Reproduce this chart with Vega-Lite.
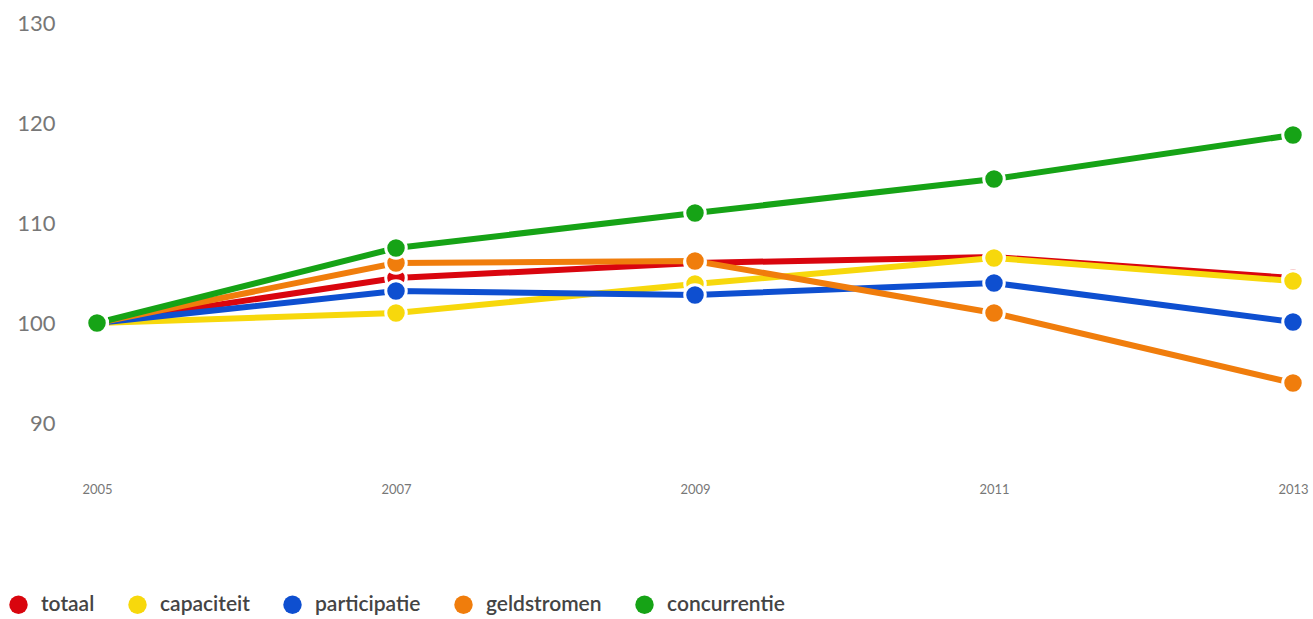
{
  "$schema": "https://vega.github.io/schema/vega-lite/v6.json",
  "autosize": {"type": "none"},
  "padding": {"left": 97, "top": 3, "right": 20, "bottom": 136},
  "width": 1196,
  "height": 480,
  "background": "white",
  "config": {"view": {"stroke": null}, "font": "Lato"},
  "data": {
    "values": [
      {"reeks": "totaal", "jaar": 2005, "index": 100},
      {"reeks": "totaal", "jaar": 2007, "index": 104.5},
      {"reeks": "totaal", "jaar": 2009, "index": 106},
      {"reeks": "totaal", "jaar": 2011, "index": 106.6},
      {"reeks": "totaal", "jaar": 2013, "index": 104.5},
      {"reeks": "capaciteit", "jaar": 2005, "index": 100},
      {"reeks": "capaciteit", "jaar": 2007, "index": 101},
      {"reeks": "capaciteit", "jaar": 2009, "index": 103.9},
      {"reeks": "capaciteit", "jaar": 2011, "index": 106.5},
      {"reeks": "capaciteit", "jaar": 2013, "index": 104.2},
      {"reeks": "participatie", "jaar": 2005, "index": 100},
      {"reeks": "participatie", "jaar": 2007, "index": 103.2},
      {"reeks": "participatie", "jaar": 2009, "index": 102.8},
      {"reeks": "participatie", "jaar": 2011, "index": 104},
      {"reeks": "participatie", "jaar": 2013, "index": 100.1},
      {"reeks": "geldstromen", "jaar": 2005, "index": 100},
      {"reeks": "geldstromen", "jaar": 2007, "index": 106},
      {"reeks": "geldstromen", "jaar": 2009, "index": 106.2},
      {"reeks": "geldstromen", "jaar": 2011, "index": 101},
      {"reeks": "geldstromen", "jaar": 2013, "index": 94},
      {"reeks": "concurrentie", "jaar": 2005, "index": 100},
      {"reeks": "concurrentie", "jaar": 2007, "index": 107.5},
      {"reeks": "concurrentie", "jaar": 2009, "index": 111},
      {"reeks": "concurrentie", "jaar": 2011, "index": 114.4},
      {"reeks": "concurrentie", "jaar": 2013, "index": 118.8}
    ]
  },
  "encoding": {
    "x": {
      "field": "jaar", "type": "quantitative",
      "scale": {"domain": [2005, 2013], "nice": false, "zero": false},
      "axis": {"values": [2005, 2007, 2009, 2011, 2013], "format": "d", "title": null,
        "domain": false, "ticks": false, "grid": false, "labelFontSize": 13,
        "labelColor": "#777777", "labelPadding": 0, "labelFont": "Lato",
        "labelFlush": false}
    },
    "y": {
      "field": "index", "type": "quantitative",
      "scale": {"domain": [84, 132], "nice": false, "zero": false},
      "axis": {"values": [90, 100, 110, 120, 130], "title": null, "domain": false,
        "ticks": false, "grid": false, "labelFontSize": 22, "labelColor": "#777777",
        "labelPadding": 42, "labelFont": "Lato"}
    },
    "color": {
      "field": "reeks", "type": "nominal",
      "scale": {
        "domain": ["totaal", "capaciteit", "participatie", "geldstromen", "concurrentie"],
        "range": ["#d9050e", "#f7d80c", "#0e4fd0", "#f07d0c", "#16a316"]
      },
      "legend": {
        "orient": "none", "legendX": -89, "legendY": 591, "direction": "horizontal",
        "title": null, "symbolType": "circle", "symbolSize": 340, "symbolStrokeWidth": 0,
        "labelFontSize": 21, "labelFont": "Lato", "labelFontWeight": 600,
        "labelColor": "#444444", "columnPadding": 32, "symbolOffset": 0, "labelOffset": 12
      }
    }
  },
  "layer": [
    {"mark": {"type": "line", "strokeWidth": 6}},
    {"mark": {"type": "point", "filled": true, "size": 420, "stroke": "white", "strokeWidth": 3, "opacity": 1, "strokeOpacity": 1}}
  ]
}
